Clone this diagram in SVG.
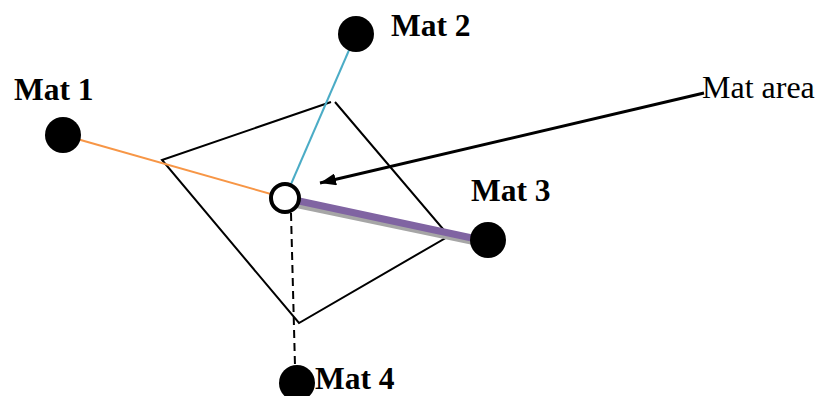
<svg xmlns="http://www.w3.org/2000/svg" width="816" height="396" viewBox="0 0 816 396">
<style>
.lbl{font-family:"Liberation Serif","Times New Roman",serif;font-size:31.5px;font-weight:bold;fill:#000}
.lblr{font-family:"Liberation Serif","Times New Roman",serif;font-size:32px;fill:#000}
.dot{fill:#000}
.edge{fill:none;stroke:#000;stroke-width:2}
</style>
<defs>
<marker id="arrL" viewBox="0 0 16 12" refX="16" refY="6" markerWidth="16" markerHeight="12" markerUnits="userSpaceOnUse" orient="auto">
<path d="M0,0 L16,6 L0,12 z" fill="#000"/>
</marker>
</defs>
<g id="area">
<polyline class="edge" points="331,102 162,160 299,323 449,236 335,102"/>
</g>
<g id="connectors">
<line x1="63" y1="135" x2="285" y2="198" stroke="#F79646" stroke-width="2"/>
<line x1="356" y1="34" x2="285" y2="198" stroke="#4BACC6" stroke-width="2"/>
<line x1="287" y1="203" x2="488" y2="245" stroke="#A6A6A6" stroke-width="6"/>
<line x1="285" y1="198" x2="486" y2="241" stroke="#8064A2" stroke-width="7"/>
<line x1="291" y1="213" x2="295" y2="366" stroke="#000" stroke-width="2" stroke-dasharray="8,5"/>
<line x1="704" y1="93" x2="320" y2="183" stroke="#000" stroke-width="3" marker-end="url(#arrL)"/>
</g>
<g id="mat1"><circle class="dot" cx="63" cy="135" r="18"/><text class="lbl" x="14" y="100">Mat 1</text></g>
<g id="mat2"><circle class="dot" cx="356" cy="34" r="18"/><text class="lbl" x="391" y="36">Mat 2</text></g>
<g id="mat3"><circle class="dot" cx="488" cy="240" r="18"/><text class="lbl" x="471" y="201">Mat 3</text></g>
<g id="mat4"><circle class="dot" cx="297" cy="383" r="18"/><text class="lbl" x="315" y="389">Mat 4</text></g>
<g id="center"><circle cx="285" cy="198" r="14" fill="#fff" stroke="#000" stroke-width="4"/></g>
<g id="matarea"><text class="lblr" x="702" y="98">Mat area</text></g>
</svg>
